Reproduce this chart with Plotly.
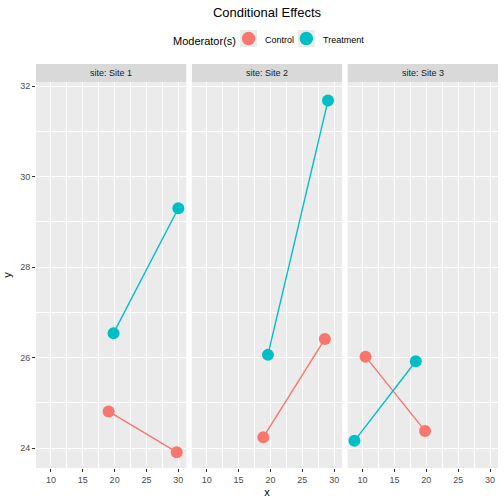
import plotly.graph_objects as go
from plotly.subplots import make_subplots

sites = ["Site 1", "Site 2", "Site 3"]
groups = ["Control", "Treatment"]
colors = {"Control": "#F8766D", "Treatment": "#00BFC4"}

site1_control_x = [19.06, 29.75]
site1_control_y = [24.81, 23.91]
site1_treat_x = [19.83, 30.0]
site1_treat_y = [26.54, 29.30]

site2_control_x = [18.88, 28.53]
site2_control_y = [24.24, 26.41]
site2_treat_x = [19.6, 29.03]
site2_treat_y = [26.06, 31.68]

site3_control_x = [10.46, 19.8]
site3_control_y = [26.02, 24.38]
site3_treat_x = [8.72, 18.35]
site3_treat_y = [24.16, 25.92]

data = {
    ("Site 1", "Control"): (site1_control_x, site1_control_y),
    ("Site 1", "Treatment"): (site1_treat_x, site1_treat_y),
    ("Site 2", "Control"): (site2_control_x, site2_control_y),
    ("Site 2", "Treatment"): (site2_treat_x, site2_treat_y),
    ("Site 3", "Control"): (site3_control_x, site3_control_y),
    ("Site 3", "Treatment"): (site3_treat_x, site3_treat_y),
}

x_ticks = [10, 15, 20, 25, 30]
y_ticks = [24, 26, 28, 30, 32]

W, H = 504, 504
ML, MR, MT, MB = 34, 6, 82, 36
plot_w = W - ML - MR
plot_h = H - MT - MB


def px_x(p):
    return (p - ML) / plot_w


def px_y(p):
    return (H - MB - p) / plot_h


fig = make_subplots(rows=1, cols=3, shared_yaxes=True, horizontal_spacing=0.012)

for i, s in enumerate(sites):
    for g in groups:
        xs, ys = data[(s, g)]
        fig.add_trace(go.Scatter(
            x=xs, y=ys, mode="lines+markers",
            line=dict(color=colors[g], width=1.4),
            marker=dict(color=colors[g], size=12),
            showlegend=False, hoverinfo="skip"), row=1, col=i + 1)

font = "Liberation Sans, Arial, sans-serif"
for i in range(3):
    fig.update_xaxes(
        range=[7.66, 31.25], tickvals=x_ticks, showgrid=True,
        gridcolor="white", gridwidth=1.1, zeroline=False,
        ticks="outside", ticklen=3, tickcolor="#333333", tickwidth=1,
        tickfont=dict(size=9, color="#4D4D4D", family=font),
        minor=dict(tick0=7.5, dtick=5, showgrid=True, gridcolor="white", gridwidth=0.5),
        row=1, col=i + 1)
    fig.update_yaxes(
        range=[23.56, 32.09], tickvals=y_ticks, showgrid=True,
        gridcolor="white", gridwidth=1.1, zeroline=False,
        ticks="outside" if i == 0 else "", ticklen=3, tickcolor="#333333", tickwidth=1,
        tickfont=dict(size=9, color="#4D4D4D", family=font),
        minor=dict(tick0=25, dtick=2, showgrid=True, gridcolor="white", gridwidth=0.5),
        row=1, col=i + 1)

fig.update_xaxes(title=dict(text="x", font=dict(size=11, color="black", family=font), standoff=4), row=1, col=2)
fig.update_yaxes(title=dict(text="y", font=dict(size=11, color="black", family=font), standoff=6), row=1, col=1)

strip_h = 18 / plot_h
domains = [fig.layout.xaxis.domain, fig.layout.xaxis2.domain, fig.layout.xaxis3.domain]
for i, s in enumerate(sites):
    d = domains[i]
    fig.add_shape(type="rect", xref="paper", yref="paper",
                  x0=d[0], x1=d[1], y0=1.0, y1=1.0 + strip_h,
                  fillcolor="#D9D9D9", line=dict(width=0), layer="below")
    fig.add_annotation(text="site: " + s, xref="paper", yref="paper",
                       x=(d[0] + d[1]) / 2, y=1.0 + strip_h / 2,
                       showarrow=False, font=dict(size=9, color="#1A1A1A", family=font),
                       xanchor="center", yanchor="middle")

# legend (ggplot-style, drawn as decoration)
legend_title = "Moderator(s)"
key_left = [239, 297]
text_left = [261.5, 320]
key_top, key_size, dot = 30, 17, 13.5
fig.add_annotation(text=legend_title, xref="paper", yref="paper",
                   x=px_x(170), y=px_y(40.5), xanchor="left", yanchor="middle",
                   showarrow=False, font=dict(size=11, color="black", family=font))
for g, kl, tl in zip(groups, key_left, text_left):
    fig.add_shape(type="rect", xref="paper", yref="paper",
                  x0=px_x(kl), x1=px_x(kl + key_size),
                  y0=px_y(key_top + key_size), y1=px_y(key_top),
                  fillcolor="#EBEBEB", line=dict(width=0))
    cx, cy = kl + key_size / 2, key_top + key_size / 2
    fig.add_shape(type="circle", xref="paper", yref="paper",
                  x0=px_x(cx - dot / 2), x1=px_x(cx + dot / 2),
                  y0=px_y(cy + dot / 2), y1=px_y(cy - dot / 2),
                  fillcolor=colors[g], line=dict(width=0))
    fig.add_annotation(text=g, xref="paper", yref="paper",
                       x=px_x(tl), y=px_y(cy + 1), xanchor="left", yanchor="middle",
                       showarrow=False, font=dict(size=9, color="black", family=font))

fig.update_layout(
    width=W, height=H,
    margin=dict(l=ML, r=MR, t=MT, b=MB),
    paper_bgcolor="white", plot_bgcolor="#EBEBEB",
    font=dict(family=font),
    showlegend=False,
    title=dict(text="Conditional Effects", x=0.5, xref="paper", y=1 - 12 / H,
               yanchor="middle", xanchor="center",
               font=dict(size=13, color="black", family=font)),
)

fig.write_html("out.html")
